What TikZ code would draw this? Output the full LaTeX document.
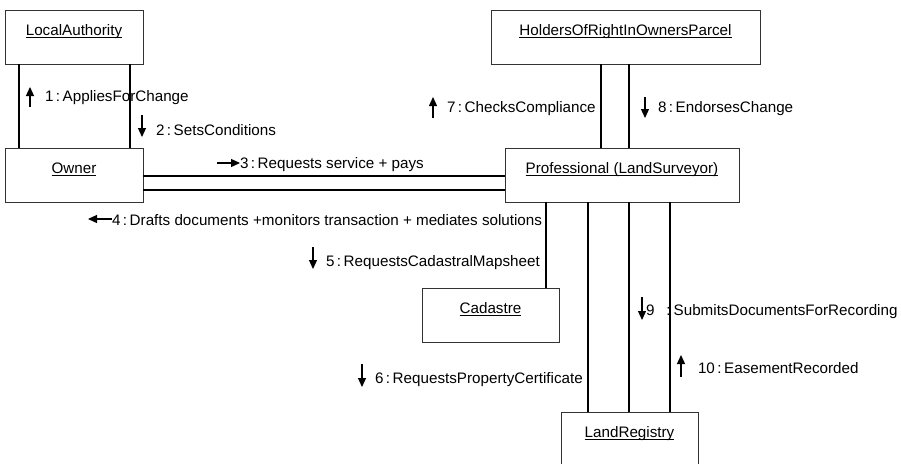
\documentclass[tikz,border=0pt]{standalone}
\usepackage{fontspec}
\setmainfont{Liberation Sans}
\usetikzlibrary{arrows.meta}
\begin{document}
\begin{tikzpicture}[x=1pt,y=-1pt,
  every node/.style={font=\fontsize{15.2pt}{18pt}\selectfont, inner sep=0pt, outer sep=0pt},
  obj/.style={draw=black!80, line width=1pt, rectangle, minimum height=54pt},
  conn/.style={line width=2pt, black},
  msgtxt/.style={anchor=base west},
  msg/.style={line width=1.2pt, -{Triangle[length=9pt,width=8pt]}},
  ttl/.style={anchor=base},
  uline/.style={line width=0.8pt}]
\useasboundingbox (0,0) rectangle (901,463);

% objects
\node[obj, minimum width=138pt] (la) at (74,37) {};
\node[obj, minimum width=138pt] (own) at (74,175) {};
\node[obj, minimum width=269pt] (hold) at (625.5,37) {};
\node[obj, minimum width=234pt] (prof) at (622,175) {};
\node[obj, minimum width=137pt] (cad) at (490.5,315) {};
\node[obj, minimum width=137pt] (lr) at (629.5,439) {};

% titles
\node[ttl] (laT) at ([yshift=-25pt]la.north) {LocalAuthority};
\node[ttl] (ownT) at ([yshift=-25pt]own.north) {Owner};
\node[ttl] (holdT) at ([yshift=-25pt]hold.north) {HoldersOfRightInOwnersParcel};
\node[ttl] (profT) at ([yshift=-25pt]prof.north) {Professional (LandSurveyor)};
\node[ttl] (cadT) at ([yshift=-25pt]cad.north) {Cadastre};
\node[ttl] (lrT) at ([yshift=-25pt]lr.north) {LandRegistry};
\foreach \t in {laT,ownT,holdT,profT,cadT,lrT}
  \draw[uline] ([yshift=-2pt]\t.base west) -- ([yshift=-2pt]\t.base east);

% guide coordinates
\coordinate (g1) at (19,0);
\coordinate (g2) at (130,0);
\coordinate (g3) at (601,0);
\coordinate (g4) at (629,0);
\coordinate (g5) at (546,0);
\coordinate (g6) at (588,0);
\coordinate (g7) at (629,0);
\coordinate (g8) at (670,0);
\coordinate (h1) at (0,176);
\coordinate (h2) at (0,190);

% links
\draw[conn] (g1 |- la.south) -- (g1 |- own.north);
\draw[conn] (g2 |- la.south) -- (g2 |- own.north);
\draw[conn] (own.east |- h1) -- (prof.west |- h1);
\draw[conn] (own.east |- h2) -- (prof.west |- h2);
\draw[conn] (g3 |- hold.south) -- (g3 |- prof.north);
\draw[conn] (g4 |- hold.south) -- (g4 |- prof.north);
\draw[conn] (g5 |- prof.south) -- (g5 |- cad.north);
\draw[conn] (g6 |- prof.south) -- (g6 |- lr.north);
\draw[conn] (g7 |- prof.south) -- (g7 |- lr.north);
\draw[conn] (g8 |- prof.south) -- (g8 |- lr.north);

% messages
\node[msgtxt] (m1) at (45,101) {1\,:\,AppliesForChange};
\draw[msg] ([xshift=-15pt,yshift=-6pt]m1.base west) -- ([xshift=-15pt,yshift=14pt]m1.base west);

\node[msgtxt] (m2) at (156,135) {2\,:\,SetsConditions};
\draw[msg] ([xshift=-14pt,yshift=20pt]m2.base west) -- ([xshift=-14pt,yshift=-2pt]m2.base west);

\node[msgtxt] (m3) at (240,168) {3\,:\,Requests service + pays};
\draw[msg] ([xshift=-23pt,yshift=5pt]m3.base west) -- ([yshift=5pt]m3.base west);

\node[msgtxt] (m4) at (112,225) {4\,:\,Drafts documents +monitors transaction + mediates solutions};
\draw[msg] ([yshift=6pt]m4.base west) -- ([xshift=-24pt,yshift=6pt]m4.base west);

\node[msgtxt] (m5) at (326,266) {5\,:\,RequestsCadastralMapsheet};
\draw[msg] ([xshift=-13pt,yshift=19pt]m5.base west) -- ([xshift=-13pt,yshift=-3pt]m5.base west);

\node[msgtxt] (m6) at (375,383) {6\,:\,RequestsPropertyCertificate};
\draw[msg] ([xshift=-13pt,yshift=19pt]m6.base west) -- ([xshift=-13pt,yshift=-4pt]m6.base west);

\node[msgtxt] (m7) at (447,112) {7\,:\,ChecksCompliance};
\draw[msg] ([xshift=-14pt,yshift=-6pt]m7.base west) -- ([xshift=-14pt,yshift=15pt]m7.base west);

\node[msgtxt] (m8) at (658,112) {8\,:\,EndorsesChange};
\draw[msg] ([xshift=-13pt,yshift=15pt]m8.base west) -- ([xshift=-13pt,yshift=-6pt]m8.base west);

\node[msgtxt] (m9) at (646,315.5) {9\hspace{12pt}:\hspace{3pt}SubmitsDocumentsForRecording};
\draw[msg] ([xshift=-4pt,yshift=18.5pt]m9.base west) -- ([xshift=-4pt,yshift=-4.5pt]m9.base west);

\node[msgtxt] (m10) at (698,373) {10\,:\,EasementRecorded};
\draw[msg] ([xshift=-17pt,yshift=-4pt]m10.base west) -- ([xshift=-17pt,yshift=18pt]m10.base west);
\end{tikzpicture}
\end{document}
